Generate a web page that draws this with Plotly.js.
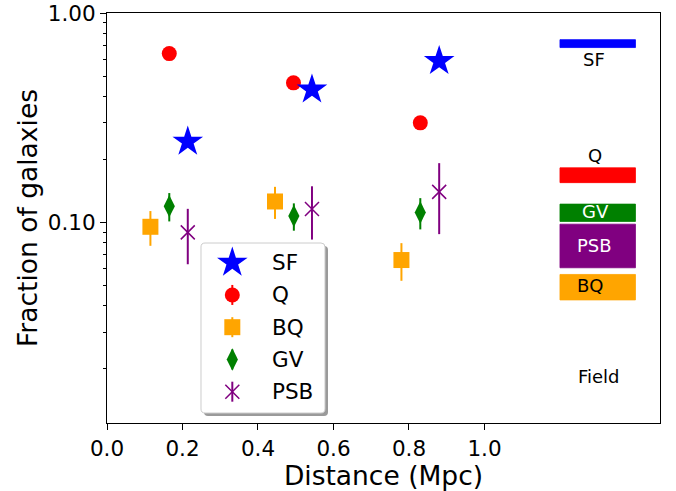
<!DOCTYPE html>
<html>
<head>
<meta charset="utf-8">
<script src="https://cdn.plot.ly/plotly-3.0.1.min.js"></script>
<style>html,body{margin:0;padding:0;background:#fff;}#chart{width:676px;height:491px;}</style>
</head>
<body>
<div id="chart"></div>
<script>
// ---------- data ----------
const categories = ["SF", "Q", "BQ", "GV", "PSB"];

const distSF = [0.214, 0.543, 0.880];
const fracSF = [0.243, 0.431, 0.590];

const distQ = [0.165, 0.494, 0.830];
const fracQ = [0.640, 0.464, 0.299];
const errQ  = [0.020, 0.020, 0.015];

const distBQ = [0.115, 0.445, 0.780];
const fracBQ = [0.0954, 0.126, 0.0662];
const errBQ  = [0.018, 0.022, 0.0135];

const distGV = [0.165, 0.495, 0.830];
const fracGV = [0.1197, 0.1074, 0.1117];
const errGV  = [0.0185, 0.016, 0.019];

const distPSB = [0.214, 0.543, 0.880];
const fracPSB = [0.0897, 0.1159, 0.140];
const errPSB  = [0.0265, 0.033, 0.052];

// field fractions (low, high) per category
const fieldLow  = [0.684, 0.155, 0.0427, 0.1012, 0.0608];
const fieldHigh = [0.746, 0.1824, 0.0565, 0.1224, 0.0982];
const fieldX = [1.2, 1.4];

const xTickVals = [0.0, 0.2, 0.4, 0.6, 0.8, 1.0];
const xTickText = ["0.0", "0.2", "0.4", "0.6", "0.8", "1.0"];
const yTickVals = [0.1, 1.0];
const yTickText = ["0.10", "1.00"];
const yMinorVals = [0.02,0.03,0.04,0.05,0.06,0.07,0.08,0.09,0.2,0.3,0.4,0.5,0.6,0.7,0.8,0.9];

// ---------- styles ----------
const colors  = {SF:"#0000ff", Q:"#ff0000", BQ:"#ffa500", GV:"#008000", PSB:"#800080"};
const symbols = {SF:"star", Q:"circle", BQ:"square", GV:"diamond-tall", PSB:"x-thin-open"};
const sizes   = {SF:23, Q:15, BQ:16, GV:16, PSB:14};
const FONT = "DejaVu Sans, Liberation Sans, sans-serif";

function markerFor(name){
  return {symbol:symbols[name], color:colors[name], size:sizes[name], opacity:1,
          line:{color:colors[name], width: name==="PSB" ? 1.5 : 0}};
}

function mk(name, x, y, err){
  const t = {
    type:"scatter", mode:"markers", x:x, y:y, name:name, showlegend:false,
    xaxis:"x", yaxis:"y", marker:markerFor(name), hoverinfo:"skip"
  };
  if(err){
    t.error_y = {type:"data", array:err, visible:true, color:colors[name], thickness:2, width:0};
  }
  return t;
}

const traces = [
  mk("BQ", distBQ, fracBQ, errBQ),
  mk("GV", distGV, fracGV, errGV),
  mk("PSB", distPSB, fracPSB, errPSB),
  mk("Q", distQ, fracQ, errQ),
  mk("SF", distSF, fracSF, null)
];

// legend keys on an overlay axis, one row per category
categories.forEach((c, i) => {
  const t = {
    type:"scatter", mode:"markers", xaxis:"x2", yaxis:"y2", showlegend:false, hoverinfo:"skip",
    x:[0], y:[i], marker:markerFor(c)
  };
  if(c !== "SF"){
    t.error_y = {type:"constant", value:0.31, visible:true, thickness:2, width:0, color:colors[c]};
  }
  traces.push(t);
});

// ---------- geometry helpers ----------
const W = 676, H = 491, ML = 107, MR = 16, MT = 13, MB = 68;
const PW = W - ML - MR, PH = H - MT - MB;
const px2x = p => (p - ML) / PW;
const py2y = p => (H - MB - p) / PH;
function roundRect(x0, y0, x1, y1, r){
  const P = (x, y) => px2x(x).toFixed(5) + "," + py2y(y).toFixed(5);
  return "M" + P(x0 + r, y0) + " L" + P(x1 - r, y0) + " Q" + P(x1, y0) + " " + P(x1, y0 + r) +
         " L" + P(x1, y1 - r) + " Q" + P(x1, y1) + " " + P(x1 - r, y1) +
         " L" + P(x0 + r, y1) + " Q" + P(x0, y1) + " " + P(x0, y1 - r) +
         " L" + P(x0, y0 + r) + " Q" + P(x0, y0) + " " + P(x0 + r, y0) + " Z";
}

const shapes = [];
// field bands
categories.forEach((c, i) => {
  shapes.push({type:"rect", xref:"x", yref:"y", x0:fieldX[0], x1:fieldX[1],
               y0:fieldLow[i], y1:fieldHigh[i], fillcolor:colors[c],
               line:{width:0.8, color:colors[c]}, layer:"below"});
});
// legend shadow + box
shapes.push({type:"path", xref:"paper", yref:"paper", path:roundRect(204, 246, 328, 416, 4),
             fillcolor:"#9a9a9a", line:{width:0}, layer:"below"});
shapes.push({type:"path", xref:"paper", yref:"paper", path:roundRect(201, 243, 325, 413, 4),
             fillcolor:"#ffffff", line:{width:1, color:"#cccccc"}, layer:"below"});

const annotations = [];
// legend labels
categories.forEach((c, i) => {
  annotations.push({xref:"x2", yref:"y2", x:0.93, y:i, text:c, showarrow:false,
                    xanchor:"left", yanchor:"middle", font:{family:FONT, size:21.5, color:"#000"}});
});
// field labels (positions in log10 units)
const fieldLabels = [
  {t:"SF", x:1.29, y:0.598, c:"#000"},
  {t:"Q", x:1.294, y:0.210, c:"#000"},
  {t:"GV", x:1.295, y:0.1127, c:"#fff"},
  {t:"PSB", x:1.292, y:0.078, c:"#fff"},
  {t:"BQ", x:1.281, y:0.050, c:"#000"},
  {t:"Field", x:1.303, y:0.0184, c:"#000"}
];
fieldLabels.forEach(l => {
  annotations.push({xref:"x", yref:"y", x:l.x, y:Math.log10(l.y), text:l.t, showarrow:false,
                    xanchor:"center", yanchor:"middle", font:{family:FONT, size:18, color:l.c}});
});

const layout = {
  width:W, height:H,
  margin:{l:ML, r:MR, t:MT, b:MB, pad:0},
  paper_bgcolor:"#fff", plot_bgcolor:"#fff",
  font:{family:FONT, color:"#000"},
  showlegend:false,
  xaxis:{
    range:[0, 1.465], tickvals:xTickVals, ticktext:xTickText,
    ticks:"outside", ticklen:6, tickwidth:1, tickcolor:"#000",
    showline:true, linecolor:"#000", linewidth:1, mirror:true,
    showgrid:false, zeroline:false,
    tickfont:{family:FONT, size:21.5, color:"#000"},
    title:{text:"Distance (Mpc)", font:{family:FONT, size:26.5, color:"#000"}, standoff:2}
  },
  yaxis:{
    type:"log", range:[-1.957, 0], tickvals:yTickVals, ticktext:yTickText,
    ticks:"outside", ticklen:6, tickwidth:1, tickcolor:"#000",
    minor:{tickvals:yMinorVals, ticks:"outside", ticklen:3.5, tickwidth:1, tickcolor:"#000", showgrid:false},
    showline:true, linecolor:"#000", linewidth:1, mirror:true,
    showgrid:false, zeroline:false,
    tickfont:{family:FONT, size:21.5, color:"#000"},
    title:{text:"Fraction of galaxies", font:{family:FONT, size:26.5, color:"#000"}, standoff:2}
  },
  xaxis2:{overlaying:"x", anchor:"y2", range:[-3.056, 10.43], visible:false, fixedrange:true},
  yaxis2:{overlaying:"y", anchor:"x2", range:[4.971, -7.743], visible:false, fixedrange:true},
  shapes:shapes,
  annotations:annotations
};

Plotly.newPlot("chart", traces, layout, {staticPlot:true, displayModeBar:false});
</script>
</body>
</html>
